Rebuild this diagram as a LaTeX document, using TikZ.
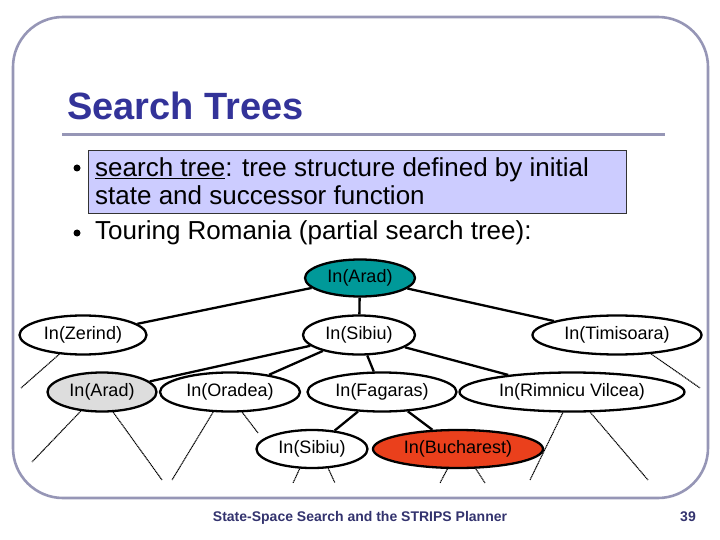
\documentclass[tikz,border=0pt]{standalone}
\usepackage{fontspec}
\setmainfont{Liberation Sans}
\usepackage{xcolor}
\usetikzlibrary{shapes.geometric}
\definecolor{slFrame}{RGB}{150,150,182}
\definecolor{slTitle}{RGB}{51,51,153}
\definecolor{slFoot}{RGB}{51,51,110}
\definecolor{slBox}{RGB}{204,204,255}
\definecolor{stRoot}{RGB}{0,153,153}
\definecolor{stSeen}{RGB}{221,221,221}
\definecolor{stGoal}{RGB}{234,64,28}

\begin{document}
\begin{tikzpicture}[x=1pt,y=-1pt,
    state/.style={draw,ellipse,line width=2.3pt,inner sep=0pt,minimum height=39pt,font=\fontsize{18}{21}\selectfont},
    edge/.style={line width=2.3pt},
    stub/.style={dash pattern=on 1.2pt off 0.6pt,line width=1.1pt},
    bodytext/.style={anchor=base west,inner sep=0pt,font=\fontsize{26}{30}\selectfont}]
    \useasboundingbox (0,0) rectangle (720,540);

    % Slide frame and title
    \draw[slFrame,line width=2.6pt,rounded corners=50pt] (13,17) rectangle (708,498);
    \node[anchor=base west,inner sep=0pt,text=slTitle,font=\fontsize{38}{41}\selectfont\bfseries] (title) at (67,120) {Search Trees};
    \draw[slFrame,line width=3pt] (62,135) -- (665,135);

    % Bullet points
    \node[draw=black!80,line width=0.8pt,fill=slBox,minimum width=538pt,minimum height=63pt,inner sep=0pt] (hilite) at (357,181.5) {};
    \fill (77,168) circle (3.5pt);
    \fill (77,233) circle (3.5pt);
    \node[bodytext] (line1) at (95,177) {\underline{search tree}: tree structure defined by initial};
    \node[bodytext] (line2) at (95,205) {state and successor function};
    \node[bodytext] (line3) at (95,240) {Touring Romania (partial search tree):};

    % Search tree nodes
    \node[state,fill=stRoot,minimum width=110pt,minimum height=37pt] (arad) at (360,278) {In(Arad)};
    \node[state,minimum width=127pt] (zerind) at (83,335) {In(Zerind)};
    \node[state,minimum width=112pt] (sibiu) at (359,335) {In(Sibiu)};
    \node[state,minimum width=169pt] (timisoara) at (617,335) {In(Timisoara)};
    \node[state,fill=stSeen,minimum width=109pt] (arad2) at (102,392) {In(Arad)};
    \node[state,minimum width=140pt] (oradea) at (230,392) {In(Oradea)};
    \node[state,minimum width=149pt] (fagaras) at (382,392) {In(Fagaras)};
    \node[state,minimum width=225pt] (rimnicu) at (572,392) {In(Rimnicu Vilcea)};
    \node[state,minimum width=111pt,minimum height=38pt] (sibiu2) at (312,449) {In(Sibiu)};
    \node[state,fill=stGoal,minimum width=170pt,minimum height=38pt] (bucharest) at (458,449) {In(Bucharest)};

    % Expanded edges
    \draw[edge] (arad) -- (zerind);
    \draw[edge] (arad) -- (sibiu);
    \draw[edge] (arad) -- (timisoara);
    \draw[edge] (sibiu) -- (arad2);
    \draw[edge] (sibiu) -- (oradea);
    \draw[edge] (sibiu) -- (fagaras);
    \draw[edge] (sibiu) -- (rimnicu);
    \draw[edge] (fagaras) -- (sibiu2);
    \draw[edge] (fagaras) -- (bucharest);

    % Unexpanded successors (dotted stubs)
    \coordinate (zS) at (21,388);
    \coordinate (a2SL) at (32,462);
    \coordinate (a2SR) at (162,480);
    \coordinate (oSL) at (172,480);
    \coordinate (oSR) at (258,433);
    \coordinate (s2SL) at (293,483);
    \coordinate (s2SR) at (335,483);
    \coordinate (bSL) at (440,483);
    \coordinate (bSR) at (485,483);
    \coordinate (rSL) at (530,480);
    \coordinate (rSR) at (648,480);
    \coordinate (tS) at (700,388);
    \draw[stub] (zerind.219) -- (zS);
    \draw[stub] (arad2.222) -- (a2SL);
    \draw[stub] (arad2.299) -- (a2SR);
    \draw[stub] (oradea.230) -- (oSL);
    \draw[stub] (oradea.301) -- (oSR);
    \draw[stub] (sibiu2.238) -- (s2SL);
    \draw[stub] (sibiu2.310) -- (s2SR);
    \draw[stub] (bucharest.242) -- (bSL);
    \draw[stub] (bucharest.312) -- (bSR);
    \draw[stub] (rimnicu.246) -- (rSL);
    \draw[stub] (rimnicu.312) -- (rSR);
    \draw[stub] (timisoara.331) -- (tS);

    % Footer
    \node[anchor=base,inner sep=0pt,text=slFoot,font=\fontsize{14}{17}\selectfont\bfseries] (footer) at (360,521) {State-Space Search and the STRIPS Planner};
    \node[anchor=base,inner sep=0pt,text=slFoot,font=\fontsize{14}{17}\selectfont\bfseries] (pageno) at (688,521) {39};
\end{tikzpicture}
\end{document}
